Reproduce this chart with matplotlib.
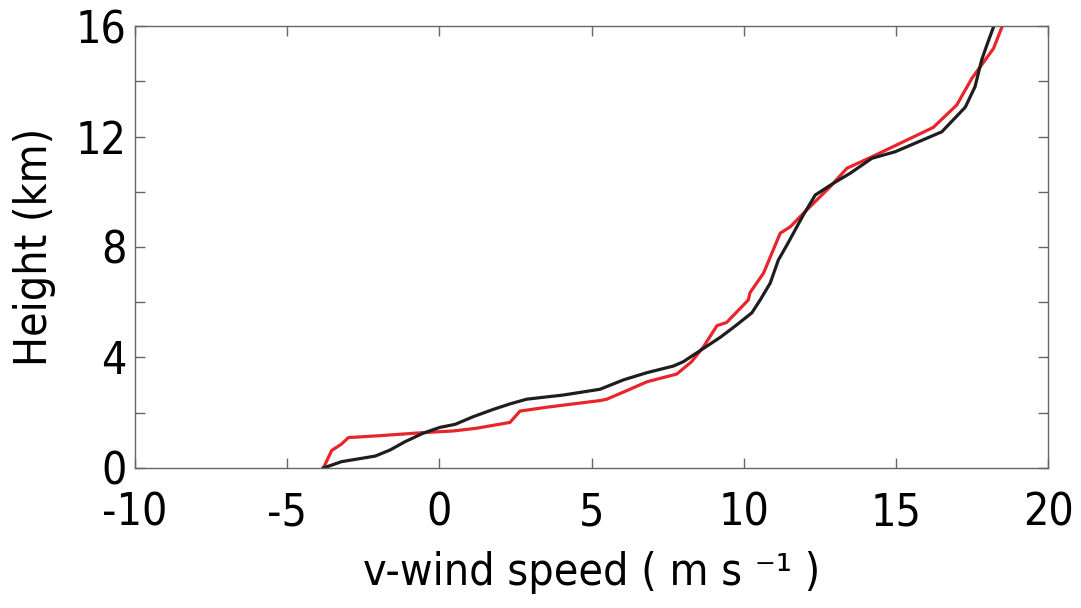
import matplotlib
matplotlib.use("Agg")
import matplotlib.pyplot as plt
from matplotlib.ticker import MultipleLocator

plt.rcParams['font.family'] = ['DejaVu Sans']
plt.rcParams['font.stretch'] = 'condensed'
plt.rcParams['axes.unicode_minus'] = False

# v-wind profiles (m/s) against height (km)
black_v = [-3.81, -3.21, -2.11, -1.62, -1.13, -0.53, 0.02, 0.52, 1.12, 1.77, 2.32,
           2.87, 3.42, 4.07, 5.28, 6.05, 6.82, 7.69, 8.02, 8.46, 9.23, 9.77, 10.27,
           10.54, 10.87, 11.14, 11.42, 11.96, 12.35, 12.95, 13.50, 14.21, 14.98,
           16.51, 17.28, 17.60, 17.82, 17.99, 18.21]
black_h = [0.0, 0.23, 0.43, 0.65, 0.95, 1.26, 1.47, 1.58, 1.86, 2.12, 2.32,
           2.49, 2.56, 2.64, 2.85, 3.19, 3.45, 3.69, 3.85, 4.17, 4.73, 5.18, 5.62,
           6.08, 6.69, 7.53, 8.07, 9.16, 9.88, 10.31, 10.67, 11.21, 11.45,
           12.17, 13.06, 13.80, 14.77, 15.31, 15.97]

red_v = [-3.81, -3.54, -3.21, -2.99, -1.95, -0.53, 0.46, 1.23, 2.32, 2.65, 3.53,
         5.28, 5.50, 6.16, 6.82, 7.80, 8.29, 8.68, 9.12, 9.44, 10.15, 10.21, 10.65,
         11.20, 11.53, 12.07, 12.84, 13.39, 14.26, 16.23, 17.00, 17.50, 18.21, 18.48]
red_h = [0.0, 0.63, 0.87, 1.10, 1.17, 1.28, 1.34, 1.44, 1.65, 2.06, 2.20,
         2.44, 2.49, 2.80, 3.12, 3.40, 3.85, 4.39, 5.15, 5.27, 6.08, 6.35, 7.05,
         8.50, 8.73, 9.34, 10.18, 10.85, 11.29, 12.33, 13.14, 14.11, 15.19, 15.95]

fig = plt.figure(figsize=(10.81, 6.08), dpi=100)
ax = fig.add_axes([0.1249, 0.2303, 0.8446, 0.7269])

ax.plot(red_v, red_h, color='#e8252b', lw=2.3, solid_joinstyle='miter')
ax.plot(black_v, black_h, color='#1e1e1e', lw=2.3, solid_joinstyle='miter')

ax.set_xlim(-10, 20)
ax.set_ylim(0, 16)
ax.xaxis.set_major_locator(MultipleLocator(5))
ax.yaxis.set_major_locator(MultipleLocator(4))
ax.yaxis.set_minor_locator(MultipleLocator(2))

for s in ax.spines.values():
    s.set_color('#666666')
    s.set_linewidth(1.0)
ax.tick_params(which='both', direction='in', top=True, right=True,
               color='#666666', width=1.0, labelsize=32)
ax.tick_params(which='major', length=7)
ax.tick_params(which='minor', length=7)
ax.tick_params(axis='x', pad=17)
ax.tick_params(axis='y', pad=6)

ax.set_xlabel('v-wind speed ( m s \u207b\u00b9 )', fontsize=32, labelpad=12)
ax.set_ylabel('Height (km)', fontsize=32, labelpad=14)

fig.savefig('out.png', dpi=100)
